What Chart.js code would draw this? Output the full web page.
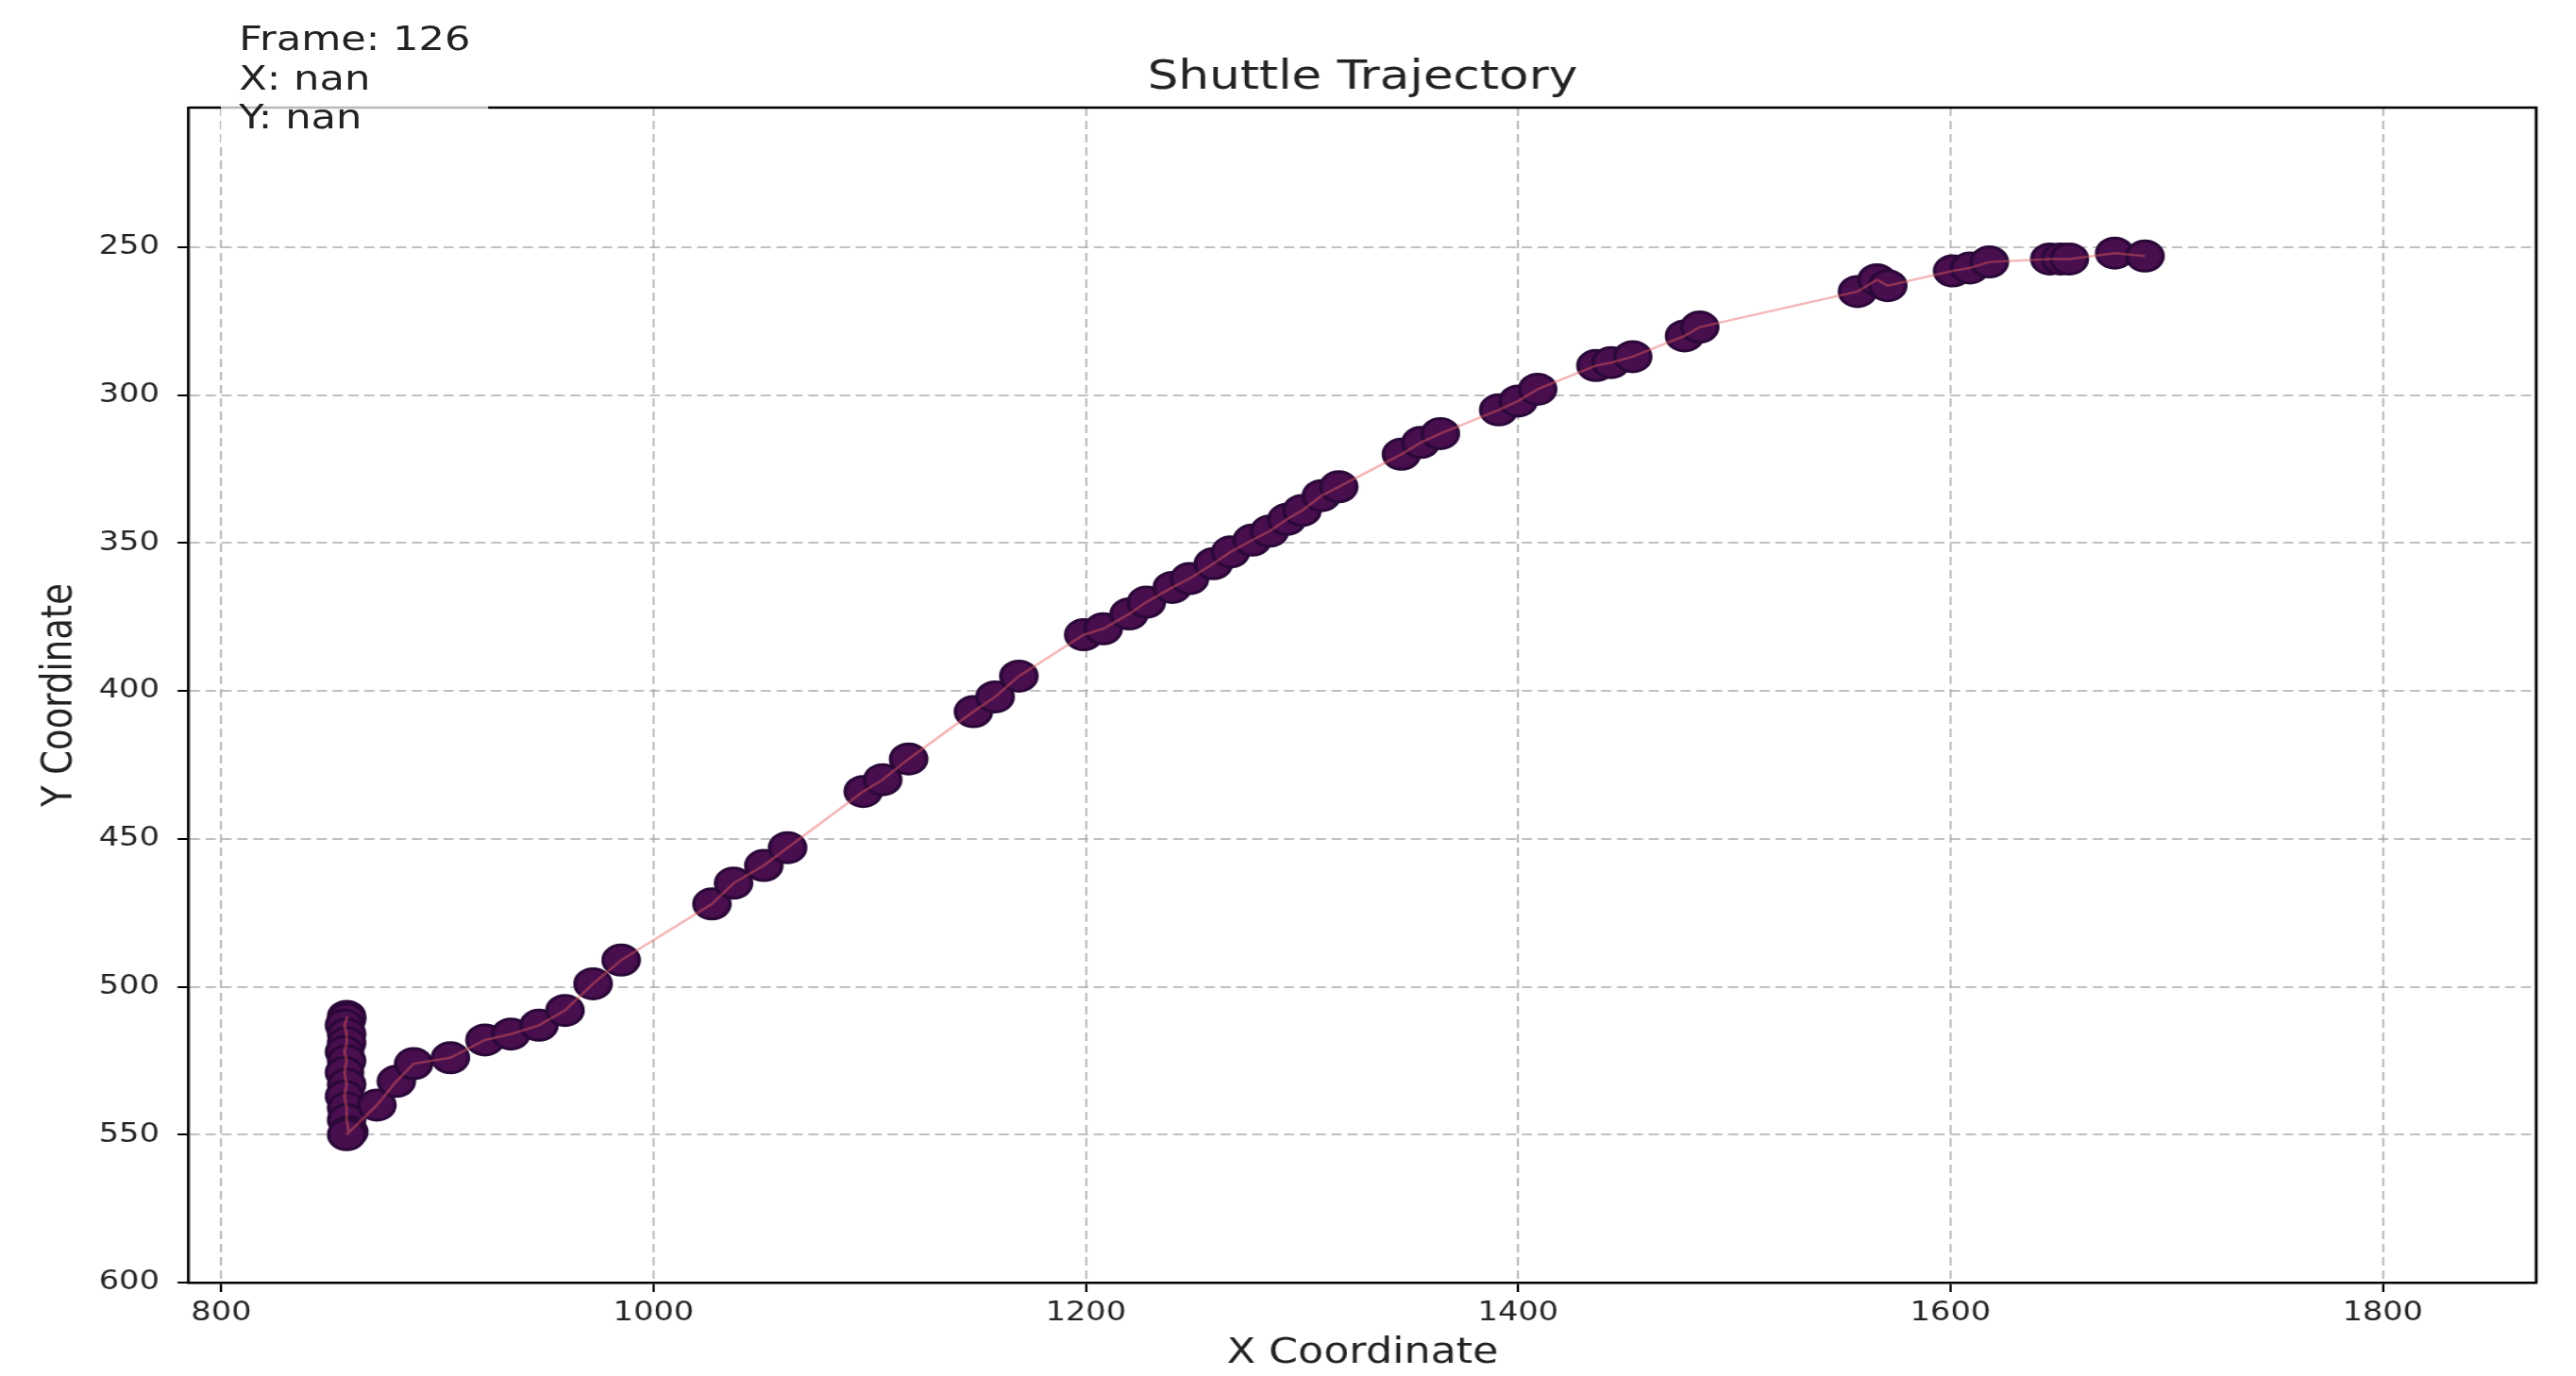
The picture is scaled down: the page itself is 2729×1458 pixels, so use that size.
<!DOCTYPE html>
<html>
<head>
<meta charset="utf-8">
<title>Shuttle Trajectory</title>
<script src="https://cdn.jsdelivr.net/npm/chart.js@4"></script>
<style>
  html, body { margin: 0; padding: 0; background: #fff; overflow: hidden; }
  /* the source figure is stretched sideways, so the whole chart is too */
  #wrap { position: absolute; left: 0; top: 0; width: 2274px; height: 1458px;
          transform: scaleX(1.2); transform-origin: 0 0; }
  #info { position: absolute; left: 195px; top: 8px; width: 236px; box-sizing: border-box;
          padding: 12px 0 8px 16px; background: rgba(255,255,255,0.72);
          font-family: 'DejaVu Sans', sans-serif; font-size: 36px; line-height: 41.5px; color: #222; }
</style>
</head>
<body>
<div id="wrap">
  <canvas id="trajectory" width="2274" height="1458"></canvas>
  <div id="info">Frame: 126<br>X: nan<br>Y: nan</div>
</div>
<script>
// shuttle positions, in frame order
var xValues = [858, 858, 857, 858, 858, 857, 858, 857, 858, 857, 858, 858, 859, 858,
               872, 881, 889, 906, 922, 934, 947, 959, 972, 985,
               1027, 1037, 1051, 1062,
               1097, 1106, 1118,
               1148, 1158, 1169,
               1199, 1208, 1220, 1228, 1240, 1248, 1259, 1267, 1277, 1285, 1293, 1300, 1309, 1317,
               1346, 1355, 1364,
               1391, 1400, 1409,
               1436, 1443, 1453,
               1477, 1484,
               1557, 1566, 1571,
               1601, 1609, 1618,
               1646, 1651, 1655,
               1676, 1690];
var yValues = [510, 511, 513, 516, 519, 522, 525, 529, 533, 537, 541, 545, 549, 550,
               540, 532, 526, 524, 518, 516, 513, 508, 499, 491,
               472, 465, 459, 453,
               434, 430, 423,
               407, 402, 395,
               381, 379, 374, 370, 365, 362, 357, 353, 349, 346, 342, 339, 334, 331,
               320, 316, 313,
               305, 302, 298,
               290, 289, 287,
               280, 277,
               265, 261, 263,
               258, 257, 255,
               254, 254, 254,
               252, 253];
var xTicks = [800, 1000, 1200, 1400, 1600, 1800];
var yTicks = [250, 300, 350, 400, 450, 500, 550, 600];

Chart.defaults.font.family = "'DejaVu Sans', sans-serif";
Chart.defaults.color = '#222';

var points = [];
for (var i = 0; i < xValues.length; i++) {
    points.push({x: xValues[i], y: yValues[i]});
}

// top and right spines (left/bottom come from the scales)
var spines = {
    id: 'spines',
    afterDraw: function(chart) {
        var a = chart.chartArea, ctx = chart.ctx;
        ctx.save();
        ctx.strokeStyle = '#000';
        ctx.lineWidth = 2.5;
        ctx.beginPath();
        ctx.moveTo(a.left, a.top);
        ctx.lineTo(a.right, a.top);
        ctx.lineTo(a.right, a.bottom);
        ctx.stroke();
        ctx.restore();
    }
};

function axisStyle(ticks, title, titlePadding) {
    return {
        type: 'linear',
        afterBuildTicks: function(scale) {
            scale.ticks = ticks.map(function(v) { return {value: v}; });
        },
        grid: {
            color: 'rgba(165,165,165,0.7)',
            lineWidth: 2,
            tickLength: 10,
            tickColor: '#000',
            tickWidth: 2
        },
        border: { display: true, color: '#000', width: 2.5, dash: [9, 5] },
        ticks: {
            font: { size: 28 },
            color: '#222',
            callback: function(v) { return String(v); }
        },
        title: { display: true, text: title, font: { size: 37 }, color: '#222', padding: titlePadding }
    };
}

var xAxis = axisStyle(xTicks, 'X Coordinate', { top: 0, bottom: 1 });
xAxis.position = 'bottom';
xAxis.min = 785;
xAxis.max = 1871;
xAxis.ticks.padding = 6;
xAxis.afterFit = function(scale) { scale.height = 99; };

var yAxis = axisStyle(yTicks, 'Y Coordinate', { top: 31, bottom: 0 });
yAxis.position = 'left';
yAxis.reverse = true;
yAxis.min = 202.8;
yAxis.max = 600;
yAxis.ticks.padding = 16;
yAxis.afterFit = function(scale) { scale.width = 166.7; };

var ctx = document.getElementById('trajectory').getContext('2d');
var chart = new Chart(ctx, {
    type: 'scatter',
    data: {
        datasets: [{
            label: 'path',
            data: points,
            showLine: true,
            pointRadius: 0,
            borderColor: 'rgba(232,95,95,0.45)',
            borderWidth: 2.5,
            order: 0
        }, {
            label: 'shuttle',
            data: points,
            pointRadius: 16,
            backgroundColor: 'rgb(72,14,78)',
            borderColor: 'rgb(42,8,56)',
            borderWidth: 3,
            order: 1
        }]
    },
    options: {
        responsive: false,
        animation: false,
        layout: { padding: { left: 0, right: 35, top: 0, bottom: 0 } },
        plugins: {
            legend: { display: false },
            tooltip: { enabled: false },
            title: {
                display: true,
                text: 'Shuttle Trajectory',
                fullSize: false,
                font: { size: 43, weight: 'normal' },
                color: '#222',
                padding: { top: 57, bottom: 5.4 }
            }
        },
        scales: { x: xAxis, y: yAxis }
    },
    plugins: [spines]
});
</script>
</body>
</html>
